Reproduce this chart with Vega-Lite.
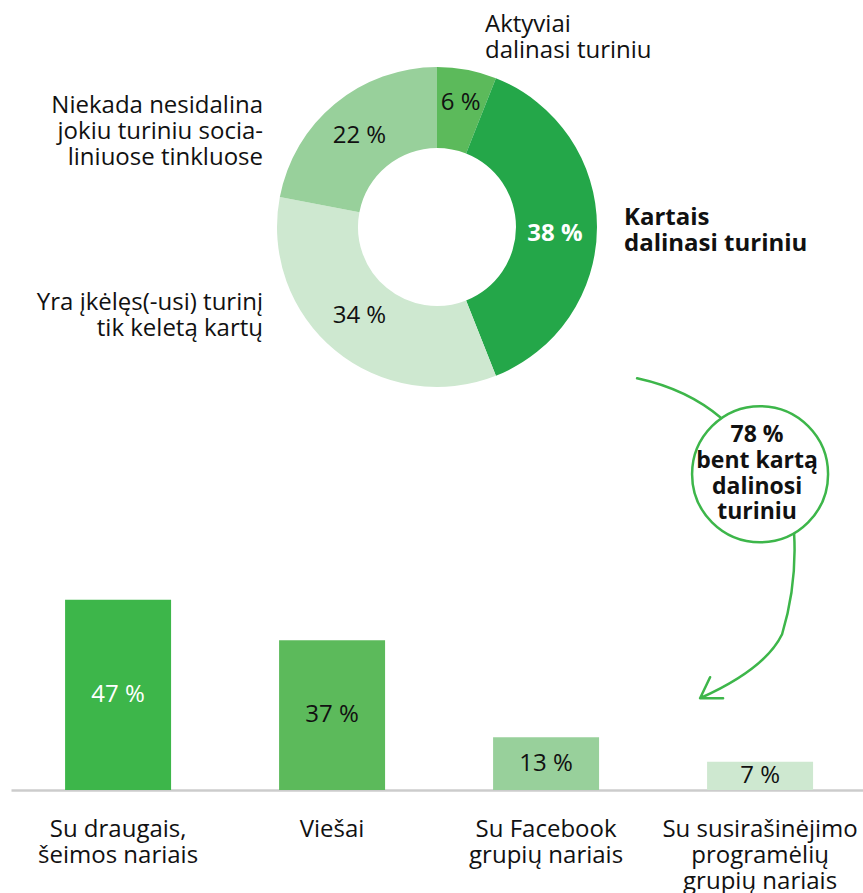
{
  "$schema": "https://vega.github.io/schema/vega-lite/v6.json",
  "padding": {"left": 11, "top": 0, "right": 0, "bottom": 0},
  "spacing": 0,
  "bounds": "flush",
  "background": "white",
  "resolve": {"scale": {"color": "independent"}},
  "config": {
    "view": {"stroke": null},
    "font": "Open Sans",
    "text": {"font": "Open Sans", "fontSize": 24, "color": "#111111"}
  },
  "vconcat": [
    {
      "width": 852,
      "height": 454,
      "data": {"values": [
        {"group": "Aktyviai", "k": 1, "value": 6, "pct": "6 %", "name": "Aktyviai\ndalinasi turiniu"},
        {"group": "Kartais", "k": 2, "value": 38, "pct": "38 %", "name": "Kartais\ndalinasi turiniu"},
        {"group": "Yra", "k": 3, "value": 34, "pct": "34 %", "name": "Yra įkėlęs(-usi) turinį\ntik keletą kartų"},
        {"group": "Niekada", "k": 4, "value": 22, "pct": "22 %", "name": "Niekada nesidalina\njokiu turiniu socia-\nliniuose tinkluose"}
      ]},
      "encoding": {
        "theta": {"field": "value", "type": "quantitative", "stack": true},
        "order": {"field": "k", "type": "quantitative"}
      },
      "layer": [
        {
          "mark": {"type": "arc", "outerRadius": 160, "innerRadius": 79},
          "encoding": {
            "color": {"field": "group", "type": "nominal", "legend": null,
              "scale": {"domain": ["Aktyviai", "Kartais", "Yra", "Niekada"],
                        "range": ["#5cba5b", "#24a749", "#cee8d0", "#98d09b"]}}
          }
        },
        {
          "mark": {"type": "text", "radius": 126, "baseline": "middle", "align": "center", "fontSize": 24, "color": "#111111"},
          "encoding": {
            "text": {"field": "pct"},
            "opacity": {"condition": {"test": "datum.group === 'Aktyviai'", "value": 1}, "value": 0}
          }
        },
        {
          "mark": {"type": "text", "radius": 118, "dy": 7, "baseline": "middle", "align": "center", "fontSize": 24, "fontWeight": "bold", "color": "white"},
          "encoding": {
            "text": {"field": "pct"},
            "opacity": {"condition": {"test": "datum.group === 'Kartais'", "value": 1}, "value": 0}
          }
        },
        {
          "mark": {"type": "text", "radius": 117, "dx": -3, "dy": -1, "baseline": "middle", "align": "center", "fontSize": 24, "color": "#111111"},
          "encoding": {
            "text": {"field": "pct"},
            "opacity": {"condition": {"test": "datum.group === 'Yra' || datum.group === 'Niekada'", "value": 1}, "value": 0}
          }
        },
        {
          "mark": {"type": "text", "radius": 160, "dx": 18, "dy": -38, "align": "left", "baseline": "alphabetic", "lineBreak": "\n", "lineHeight": 26, "fontSize": 24, "color": "#111111"},
          "encoding": {
            "text": {"field": "name"},
            "opacity": {"condition": {"test": "datum.group === 'Aktyviai'", "value": 1}, "value": 0}
          }
        },
        {
          "mark": {"type": "text", "radius": 160, "dx": 27, "dy": -2, "align": "left", "baseline": "alphabetic", "lineBreak": "\n", "lineHeight": 26, "fontSize": 24, "fontWeight": "bold", "color": "#111111"},
          "encoding": {
            "text": {"field": "name"},
            "opacity": {"condition": {"test": "datum.group === 'Kartais'", "value": 1}, "value": 0}
          }
        },
        {
          "mark": {"type": "text", "radius": 160, "dx": -72, "dy": -40, "align": "right", "baseline": "alphabetic", "lineBreak": "\n", "lineHeight": 26, "fontSize": 24, "color": "#111111"},
          "encoding": {
            "text": {"field": "name"},
            "opacity": {"condition": {"test": "datum.group === 'Yra'", "value": 1}, "value": 0}
          }
        },
        {
          "mark": {"type": "text", "radius": 160, "dx": -72, "dy": 9, "align": "right", "baseline": "alphabetic", "lineBreak": "\n", "lineHeight": 26, "fontSize": 24, "color": "#111111"},
          "encoding": {
            "text": {"field": "name"},
            "opacity": {"condition": {"test": "datum.group === 'Niekada'", "value": 1}, "value": 0}
          }
        }
      ]
    },
    {
      "width": 852,
      "height": 336,
      "encoding": {
        "x": {"field": "cat", "type": "nominal", "title": null,
          "scale": {"domain": ["Su draugais,\nšeimos nariais", "Viešai", "Su Facebook\ngrupių nariais", "Su susirašinėjimo\nprogramėlių\ngrupių nariais"],
                    "paddingInner": 0.5047, "paddingOuter": 0.243, "align": 0.52},
          "axis": {"labelAngle": 0, "ticks": false, "tickSize": 0, "grid": false,
                   "domainColor": "#cccccc", "domainWidth": 2.5,
                   "labelFont": "Open Sans", "labelFontSize": 24, "labelColor": "#111111",
                   "labelPadding": 46, "labelBaseline": "alphabetic", "labelLineHeight": 26,
                   "labelLimit": 0, "labelOverlap": false,
                   "labelExpr": "split(datum.label, '\\n')"}},
        "y": {"field": "value", "type": "quantitative", "scale": {"domain": [0, 83]}, "axis": null}
      },
      "layer": [
        {
          "data": {"name": "bars", "values": [
            {"cat": "Su draugais,\nšeimos nariais", "value": 47, "pct": "47 %"},
            {"cat": "Viešai", "value": 37, "pct": "37 %"},
            {"cat": "Su Facebook\ngrupių nariais", "value": 13, "pct": "13 %"},
            {"cat": "Su susirašinėjimo\nprogramėlių\ngrupių nariais", "value": 7, "pct": "7 %"}
          ]},
          "layer": [
            {
              "mark": {"type": "bar"},
              "encoding": {
                "color": {"field": "cat", "type": "nominal", "legend": null,
                  "scale": {"domain": ["Su draugais,\nšeimos nariais", "Viešai", "Su Facebook\ngrupių nariais", "Su susirašinėjimo\nprogramėlių\ngrupių nariais"],
                            "range": ["#3db64a", "#5cba5b", "#98d09b", "#cee8d0"]}}
              }
            },
            {
              "mark": {"type": "text", "baseline": "middle", "align": "center", "fontSize": 24},
              "encoding": {
                "y": {"field": "value", "type": "quantitative", "stack": "zero", "bandPosition": 0.5},
                "text": {"field": "pct"},
                "color": {"condition": {"test": "datum.value > 40", "value": "white"}, "value": "#111111"}
              }
            }
          ]
        },
        {
          "data": {"values": [
            {"cat": "Su susirašinėjimo\nprogramėlių\ngrupių nariais", "value": 78, "note": "78 %\nbent kartą\ndalinosi\nturiniu"}
          ]},
          "layer": [
            {
              "mark": {"type": "point", "shape": "M-123,-96 Q-72.5,-85 -38.6,-56 M34,59 Q37,110 22,160 Q5,195 -60,224 M-50,203 L-60,224 L-37,224", "size": 4, "filled": false, "stroke": "#3db64a", "strokeWidth": 2.5, "opacity": 1, "strokeCap": "round", "strokeJoin": "round"}
            },
            {
              "mark": {"type": "point", "shape": "circle", "size": 18496, "filled": false, "fill": "white", "fillOpacity": 1, "stroke": "#3db64a", "strokeWidth": 2.5, "opacity": 1}
            },
            {
              "mark": {"type": "text", "dx": -3, "dy": -32, "align": "center", "baseline": "alphabetic", "lineBreak": "\n", "lineHeight": 25.7, "fontSize": 23, "fontWeight": "bold", "color": "#111111"},
              "encoding": {"text": {"field": "note"}}
            }
          ]
        }
      ]
    }
  ]
}
